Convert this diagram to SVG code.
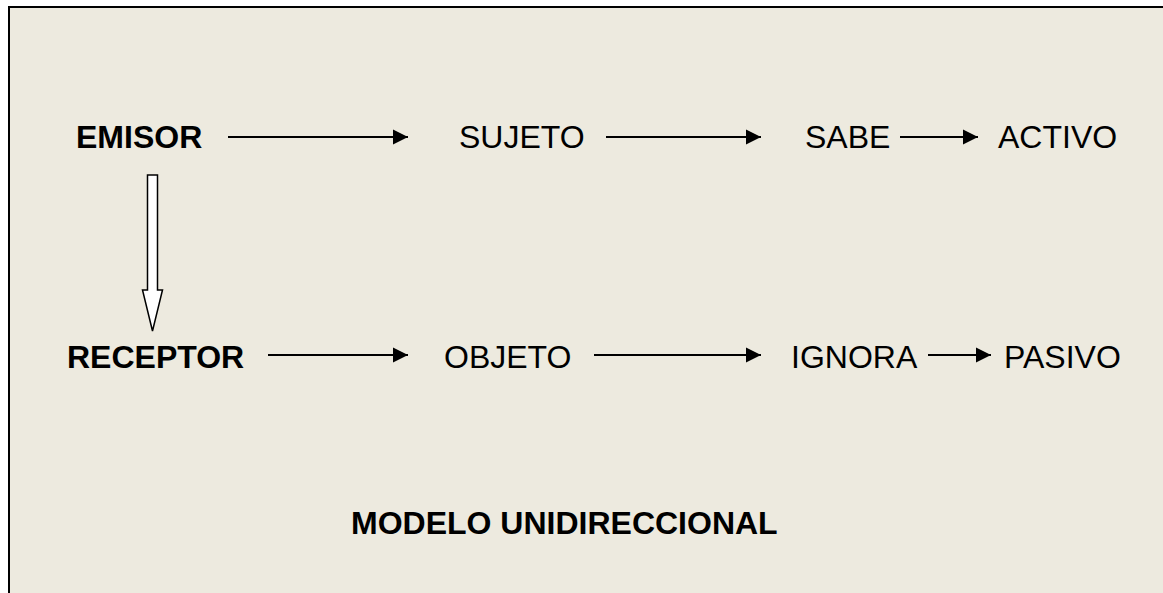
<svg xmlns="http://www.w3.org/2000/svg" width="1163" height="593" viewBox="0 0 1163 593">
<style>
.t{font-family:"Liberation Sans",Arial,sans-serif;font-size:32px;fill:#000}
.b{font-weight:bold}
.c{stroke:#000;stroke-width:2.2;fill:none}
</style>
<defs>
<marker id="ah" markerUnits="userSpaceOnUse" markerWidth="16" markerHeight="16" viewBox="0 0 16 16" refX="15" refY="8" orient="auto">
<path d="M0,0.5 L15,8 L0,15.5 Z" fill="#000"/>
</marker>
</defs>
<rect x="0" y="0" width="1163" height="593" fill="#fff"/>
<rect x="9" y="7" width="1160" height="600" fill="#EDEADF"/>
<path d="M9,600 V7 H1163" stroke="#000" stroke-width="2" fill="none"/>
<g id="emisor"><text class="t b" x="76" y="148">EMISOR</text></g>
<g id="sujeto"><text class="t" x="459" y="148">SUJETO</text></g>
<g id="sabe"><text class="t" x="805" y="148">SABE</text></g>
<g id="activo"><text class="t" x="998" y="148">ACTIVO</text></g>
<g id="receptor"><text class="t b" x="67" y="368">RECEPTOR</text></g>
<g id="objeto"><text class="t" x="444" y="368">OBJETO</text></g>
<g id="ignora"><text class="t" x="791" y="368">IGNORA</text></g>
<g id="pasivo"><text class="t" x="1004" y="368">PASIVO</text></g>
<g id="titulo"><text class="t b" x="351" y="534">MODELO UNIDIRECCIONAL</text></g>
<g id="connectors">
<line class="c" x1="228" y1="137" x2="408" y2="137" marker-end="url(#ah)"/>
<line class="c" x1="606" y1="137" x2="761" y2="137" marker-end="url(#ah)"/>
<line class="c" x1="900" y1="137" x2="978" y2="137" marker-end="url(#ah)"/>
<line class="c" x1="268" y1="355" x2="408" y2="355" marker-end="url(#ah)"/>
<line class="c" x1="594" y1="355" x2="761" y2="355" marker-end="url(#ah)"/>
<line class="c" x1="928" y1="355" x2="991" y2="355" marker-end="url(#ah)"/>
<path d="M147.5,175 H157.5 V290 H162.5 L152.5,331 L142.5,290 H147.5 Z" fill="#fff" stroke="#000" stroke-width="1.5" stroke-linejoin="miter"/>
</g>
</svg>
